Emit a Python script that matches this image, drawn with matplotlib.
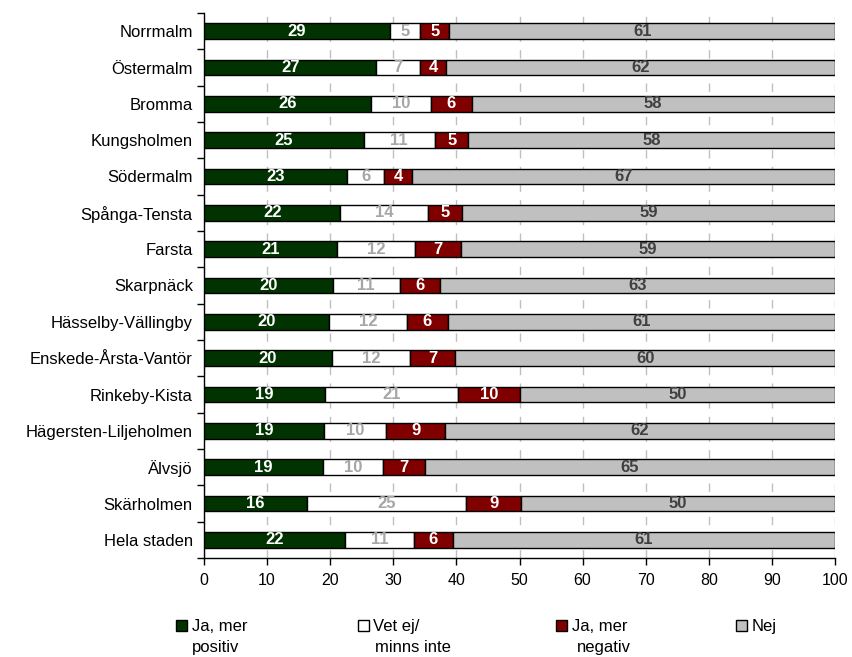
import matplotlib
matplotlib.use("Agg")
import matplotlib.pyplot as plt
from matplotlib.patches import Rectangle
import numpy as np

plt.rcParams['font.family'] = ['Liberation Sans', 'DejaVu Sans']

categories = ["Norrmalm", "Östermalm", "Bromma", "Kungsholmen", "Södermalm",
              "Spånga-Tensta", "Farsta", "Skarpnäck", "Hässelby-Vällingby",
              "Enskede-Årsta-Vantör", "Rinkeby-Kista", "Hägersten-Liljeholmen",
              "Älvsjö", "Skärholmen", "Hela staden"]
ja_positiv = [29.4, 27.3, 26.4, 25.3, 22.7, 21.6, 21.1, 20.4, 19.8, 20.3, 19.2, 19.0, 18.8, 16.4, 22.4]
vet_ej     = [4.9, 7.0, 9.6, 11.3, 5.9, 13.9, 12.3, 10.6, 12.4, 12.3, 21.0, 9.9, 9.6, 25.1, 10.9]
ja_negativ = [4.6, 4.1, 6.4, 5.3, 4.4, 5.4, 7.4, 6.4, 6.4, 7.2, 9.9, 9.3, 6.6, 8.8, 6.1]
nej        = [61.1, 61.6, 57.6, 58.1, 67.0, 59.1, 59.2, 62.6, 61.4, 60.2, 49.9, 61.8, 65.0, 49.7, 60.6]

series = [ja_positiv, vet_ej, ja_negativ, nej]
names = ["Ja, mer\npositiv", "Vet ej/\nminns inte", "Ja, mer\nnegativ", "Nej"]
colors = ["#003300", "#ffffff", "#800000", "#c0c0c0"]
txtcolors = ["white", "#a6a6a6", "white", "#404040"]

W, H = 852, 657
fig = plt.figure(figsize=(W / 100, H / 100), dpi=100)
ax = fig.add_axes([204 / W, 1 - 558 / H, (835 - 204) / W, (558 - 13) / H])

n = len(categories)
y = np.arange(n)
left = np.zeros(n)
for vals, col, tc in zip(series, colors, txtcolors):
    vals = np.array(vals)
    ax.barh(y, vals, left=left, height=0.44, color=col, edgecolor="black", linewidth=1.0, zorder=3)
    for yi, l, v in zip(y, left, vals):
        ax.text(l + v / 2, yi, f"{int(round(v))}", ha="center", va="center",
                color=tc, fontsize=12, fontweight="bold", zorder=4)
    left = left + vals

ax.set_xlim(0, 100)
ax.set_ylim(n - 0.5, -0.5)
ax.set_xticks(np.arange(0, 101, 10))
ax.tick_params(axis="x", labelsize=11.5, length=5, direction="out", width=1, pad=6)
ax.set_yticks(y)
ax.set_yticklabels(categories, fontsize=12)
ax.tick_params(axis="y", length=0, pad=8)
ax.set_yticks(np.arange(-0.5, n, 1), minor=True)
ax.tick_params(axis="y", which="minor", length=5, direction="out", width=1)
ax.xaxis.grid(True, color="#bfbfbf", linestyle=(0, (6, 6)), linewidth=1, zorder=0)
for s in ["top", "right"]:
    ax.spines[s].set_visible(False)
for s in ["left", "bottom"]:
    ax.spines[s].set_linewidth(1)

# legend (pixel layout)
sq_x = [176, 358, 556, 736]
line_x = [(192, 192), (373, 375), (572, 577), (752, 752)]
for xp, lx, col, name in zip(sq_x, line_x, colors, names):
    sq = 11
    fig.patches.append(Rectangle((xp / W, 1 - 631 / H), sq / W, sq / H,
                                 transform=fig.transFigure, facecolor=col,
                                 edgecolor="black", linewidth=1))
    for k, line in enumerate(name.split("\n")):
        fig.text(lx[k] / W, 1 - (631 + 21 * k) / H, line, ha="left", va="baseline",
                 fontsize=12)

fig.savefig("out.png", dpi=100)
